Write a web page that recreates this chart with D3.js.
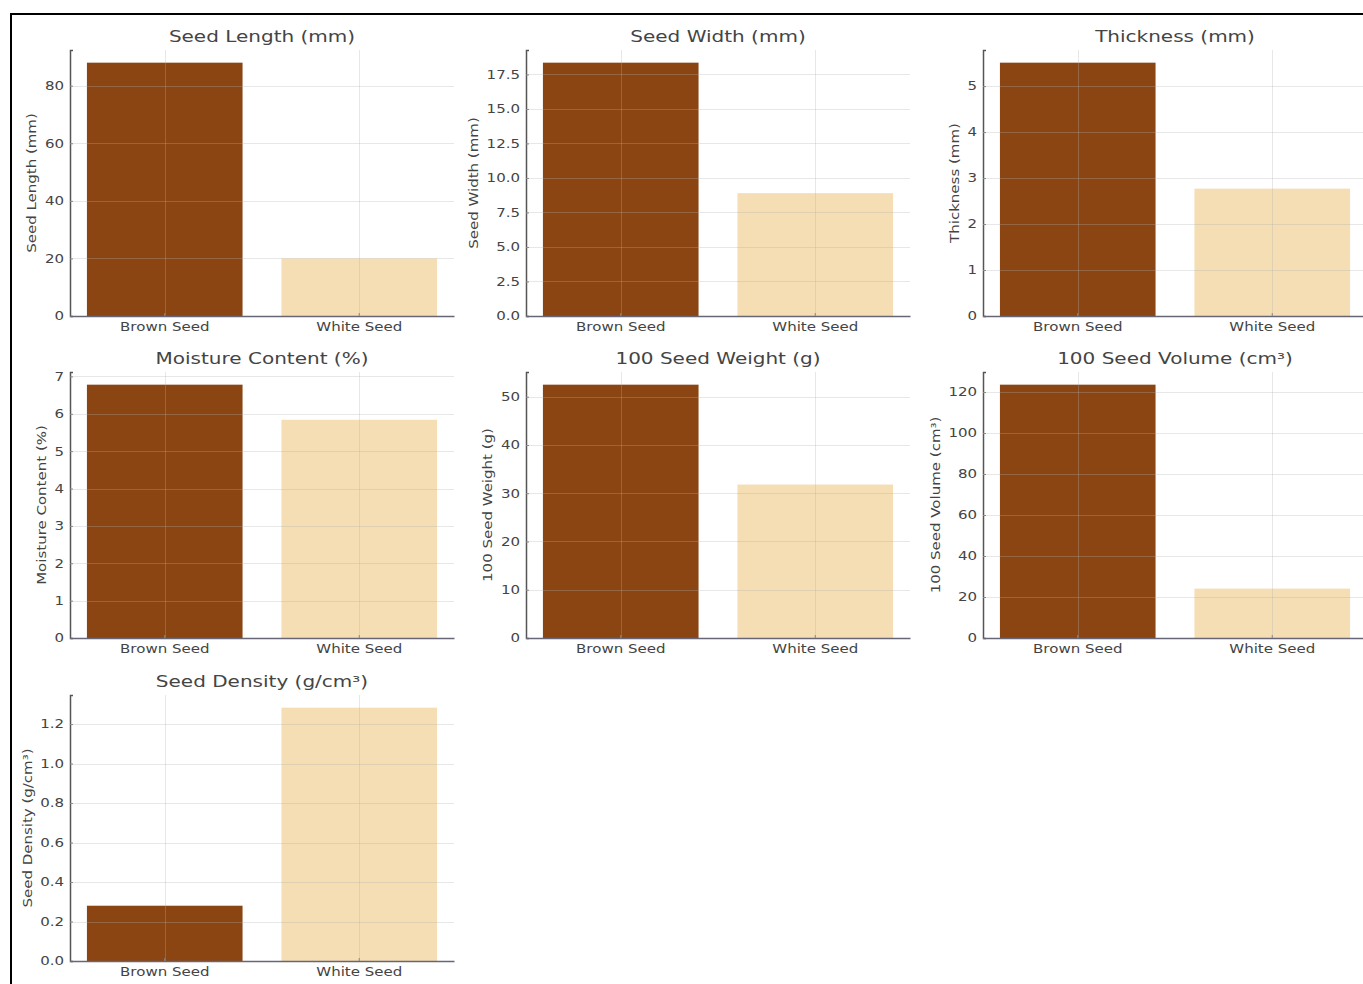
<!DOCTYPE html>
<html>
<head>
<meta charset="utf-8">
<script src="https://cdn.jsdelivr.net/npm/d3@7/dist/d3.min.js"></script>
<style>
  html, body { margin: 0; padding: 0; background: #fff; }
  svg { display: block; }
  text { font-family: "DejaVu Sans", sans-serif; fill: #444; }
</style>
</head>
<body>
<script>
// ---- data ----
const categories = ["Brown Seed", "White Seed"];
const barColors = ["#8B4513", "#F5DEB3"];

const titles = ["Seed Length (mm)", "Seed Width (mm)", "Thickness (mm)",
                "Moisture Content (%)", "100 Seed Weight (g)", "100 Seed Volume (cm³)",
                "Seed Density (g/cm³)"];
const yLabels = ["Seed Length (mm)", "Seed Width (mm)", "Thickness (mm)",
                 "Moisture Content (%)", "100 Seed Weight (g)", "100 Seed Volume (cm³)",
                 "Seed Density (g/cm³)"];

const seedLength = [88, 20];
const seedWidth = [18.35, 8.9];
const thickness = [5.51, 2.77];
const moisture = [6.78, 5.84];
const weight100 = [52.5, 31.8];
const volume100 = [123.6, 24.1];
const density = [0.28, 1.283];
const seriesValues = [seedLength, seedWidth, thickness, moisture, weight100, volume100, density];

const ticksLength = [0, 20, 40, 60, 80];
const ticksWidth = [0, 2.5, 5, 7.5, 10, 12.5, 15, 17.5];
const ticksThickness = [0, 1, 2, 3, 4, 5];
const ticksMoisture = [0, 1, 2, 3, 4, 5, 6, 7];
const ticksWeight = [0, 10, 20, 30, 40, 50];
const ticksVolume = [0, 20, 40, 60, 80, 100, 120];
const ticksDensity = [0, 0.2, 0.4, 0.6, 0.8, 1.0, 1.2];
const tickSets = [ticksLength, ticksWidth, ticksThickness, ticksMoisture, ticksWeight, ticksVolume, ticksDensity];
const tickFormats = ["d", ".1f", "d", "d", "d", "d", ".1f"];

// ---- layout ----
const W = 1363, H = 984;
const colX = [70, 526, 983];
const rowBase = [316, 638, 961];
const plotW = 384, plotH = 266;
const SX = 1.25; // horizontal text stretch

const svg = d3.select("body").append("svg").attr("width", W).attr("height", H);

seriesValues.forEach((vals, i) => {
  const col = i % 3, row = Math.floor(i / 3);
  const x0 = colX[col], yb = rowBase[row], yt = yb - plotH;
  const g = svg.append("g").attr("transform", `translate(${x0},${yt})`);

  const x = d3.scaleBand().domain(categories).range([0, plotW])
    .paddingInner(0.2).paddingOuter(0.087);
  const y = d3.scaleLinear().domain([0, d3.max(vals) * 1.05]).range([plotH, 0]);
  const fmt = d3.format(tickFormats[i]);

  // bars
  g.selectAll("rect.bar").data(vals).join("rect")
    .attr("class", "bar")
    .attr("x", (d, j) => x(categories[j]))
    .attr("width", x.bandwidth())
    .attr("y", d => y(d))
    .attr("height", d => y(0) - y(d))
    .attr("fill", (d, j) => barColors[j]);

  // grid (drawn on top, semi-transparent)
  g.append("g").selectAll("line").data(tickSets[i]).join("line")
    .attr("x1", 0).attr("x2", plotW)
    .attr("y1", d => Math.round(y(d)) + 0.5).attr("y2", d => Math.round(y(d)) + 0.5)
    .attr("stroke", "#b0b0b0").attr("stroke-opacity", 0.3);
  g.append("g").selectAll("line").data(categories).join("line")
    .attr("y1", 0).attr("y2", plotH)
    .attr("x1", d => Math.round(x(d) + x.bandwidth() / 2) + 0.5)
    .attr("x2", d => Math.round(x(d) + x.bandwidth() / 2) + 0.5)
    .attr("stroke", "#b0b0b0").attr("stroke-opacity", 0.3);

  // y axis
  const yAxis = g.append("g").call(
    d3.axisLeft(y).tickValues(tickSets[i]).tickFormat(fmt).tickSize(-3).tickPadding(6));
  yAxis.select(".domain").attr("stroke", "#555").attr("stroke-width", 1.5);
  yAxis.selectAll(".tick line").attr("stroke", "#888");
  yAxis.selectAll(".tick text")
    .attr("font-size", 12).attr("fill", "#444")
    .attr("transform", `scale(${SX},1)`)
    .attr("x", -6 / SX);

  // x axis
  const xAxis = g.append("g").attr("transform", `translate(0,${plotH})`).call(
    d3.axisBottom(x).tickSize(-3).tickPadding(6).tickSizeOuter(0));
  xAxis.select(".domain").attr("stroke", "#667").attr("stroke-width", 1.5);
  xAxis.selectAll(".tick line").attr("stroke", "#888");
  xAxis.selectAll(".tick text")
    .attr("font-size", 12).attr("fill", "#444")
    .attr("transform", `scale(${SX},1)`)
    .attr("y", 6).attr("dy", "0.71em");

  // y label position relative to tick labels
  let minLeft = 0;
  yAxis.selectAll(".tick text").each(function () {
    const bb = this.getBBox();
    const left = (bb.x) * SX;
    if (left < minLeft) minLeft = left;
  });
  g.append("text")
    .attr("transform", `translate(${minLeft - 13},${plotH / 2}) rotate(-90) scale(${SX},1)`)
    .attr("text-anchor", "middle")
    .attr("dominant-baseline", "central")
    .attr("font-size", 12)
    .text(yLabels[i]);

  // title
  g.append("text")
    .attr("transform", `translate(${plotW / 2},-8) scale(${SX},1)`)
    .attr("text-anchor", "middle")
    .attr("font-size", 16)
    .attr("fill", "#444")
    .text(titles[i]);
});

// outer border (top and left visible)
svg.append("rect")
  .attr("x", 11).attr("y", 14).attr("width", W + 50).attr("height", H + 50)
  .attr("fill", "none").attr("stroke", "#000").attr("stroke-width", 2);
</script>
</body>
</html>
